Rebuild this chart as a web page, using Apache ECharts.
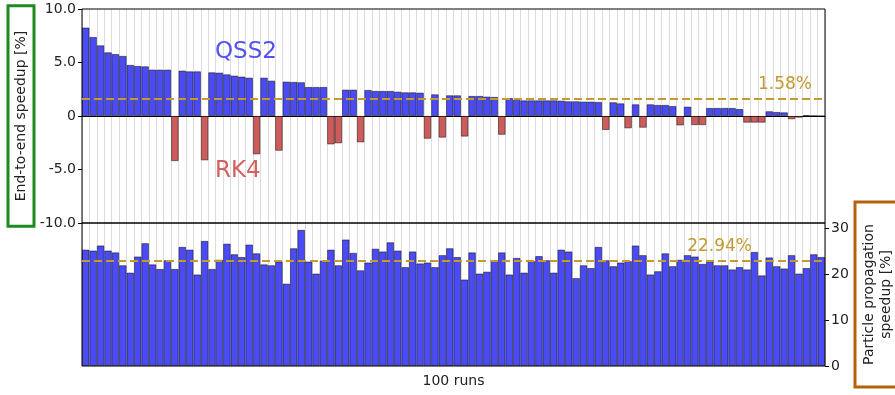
<!DOCTYPE html>
<html>
<head>
<meta charset="utf-8">
<script src="https://cdn.jsdelivr.net/npm/echarts@6/dist/echarts.min.js"></script>
<style>
  html, body { margin: 0; padding: 0; background: #fff; }
  #chart { width: 895px; height: 395px; }
</style>
</head>
<body>
<div id="chart"></div>
<script>
// 100 runs, sorted by size of end-to-end speedup (QSS2 > 0, RK4 < 0)
const runs = Array.from({ length: 100 }, (_, i) => i + 1)

const endToEnd = [
  8.26, 7.38, 6.60, 5.95, 5.79, 5.61, 4.77, 4.67, 4.64, 4.33,
  4.33, 4.33, -4.21, 4.24, 4.17, 4.17, -4.14, 4.08, 4.05, 3.89,
  3.77, 3.68, 3.58, -3.58, 3.58, 3.30, -3.24, 3.21, 3.18, 3.15,
  2.71, 2.71, 2.71, -2.65, -2.55, 2.46, 2.46, -2.46, 2.43, 2.34,
  2.34, 2.34, 2.27, 2.21, 2.21, 2.18, -2.12, 2.02, -2.02, 1.93,
  1.93, -1.92, 1.87, 1.87, 1.81, 1.78, -1.75, 1.68, 1.50, 1.46,
  1.46, 1.46, 1.46, 1.46, 1.43, 1.37, 1.37, 1.34, 1.34, 1.31,
  -1.30, 1.28, 1.18, -1.15, 1.09, -1.09, 1.09, 1.03, 1.03, 0.93,
  -0.88, 0.87, -0.85, -0.85, 0.75, 0.75, 0.75, 0.75, 0.65, -0.62,
  -0.62, -0.62, 0.44, 0.37, 0.34, -0.30, -0.15, 0.08, 0.03, 0.00
]

const particleProp = [
  25.3, 25.1, 26.2, 25.1, 24.7, 21.9, 20.3, 23.8, 26.7, 22.1,
  21.1, 23.0, 21.1, 25.9, 25.3, 19.9, 27.2, 21.1, 23.1, 26.6,
  24.3, 23.7, 26.4, 24.5, 22.1, 21.9, 22.7, 17.9, 25.6, 29.6,
  22.7, 20.1, 22.9, 25.3, 21.9, 27.5, 24.6, 20.8, 22.5, 25.5,
  24.9, 26.9, 25.1, 21.5, 24.9, 22.3, 22.5, 21.5, 24.1, 25.6,
  23.7, 18.8, 24.7, 20.1, 20.5, 23.0, 24.7, 19.9, 23.5, 20.3,
  22.8, 23.9, 23.0, 20.3, 25.3, 24.9, 19.1, 21.9, 21.3, 25.9,
  23.0, 21.7, 22.5, 22.8, 26.2, 24.1, 19.9, 20.6, 24.5, 21.7,
  23.1, 24.1, 23.8, 22.2, 22.8, 21.9, 21.9, 21.0, 21.5, 21.0,
  24.8, 19.7, 23.6, 21.7, 21.2, 24.1, 20.1, 21.3, 24.3, 23.7
]

const endToEndMean = 1.58
const particleMean = 22.94
const topTicks = [-10, -5, 0, 5, 10]
const bottomTicks = [0, 10, 20, 30]

const blue = '#4b4bf5'
const red = '#cd5c5c'
const gold = '#c49a30'
const edge = 'rgba(0,0,0,0.6)'
const font = '"DejaVu Sans", sans-serif'

const chart = echarts.init(document.getElementById('chart'))

const catAxis = (gridIndex) => ({
  gridIndex: gridIndex,
  type: 'category',
  data: runs,
  axisTick: { show: false },
  axisLabel: { show: false },
  splitLine: { show: true, interval: 0, lineStyle: { color: '#dcdcdc', width: 1 } }
})

// grid z above the split lines and bars so the black frame stays on top
const gridBase = {
  left: 82, right: 70, show: true, z: 3,
  backgroundColor: 'transparent', borderColor: '#000', borderWidth: 1,
  outerBoundsMode: 'none'
}

chart.setOption({
  animation: false,
  textStyle: { fontFamily: font },
  grid: [
    Object.assign({ top: 9, height: 214 }, gridBase),
    Object.assign({ top: 223, height: 143 }, gridBase)
  ],
  xAxis: [
    Object.assign(catAxis(0), {
      axisLine: { show: true, onZero: true, lineStyle: { color: '#000', width: 1 } }
    }),
    Object.assign(catAxis(1), {
      axisLine: { show: false },
      name: '100 runs',
      nameLocation: 'middle',
      nameGap: 8,
      nameMoveOverlap: false,
      nameTextStyle: { fontSize: 14, color: '#222', verticalAlign: 'top' }
    })
  ],
  yAxis: [
    {
      gridIndex: 0,
      type: 'value',
      position: 'left',
      min: -10,
      max: 10,
      interval: 5,
      axisLine: { show: false },
      axisTick: { show: true, length: 4, customValues: topTicks, lineStyle: { color: '#000' } },
      axisLabel: {
        customValues: topTicks,
        fontSize: 14, color: '#222', margin: 6,
        formatter: v => v === 0 ? '0' : v.toFixed(1)
      },
      splitLine: { show: false },
      name: 'End-to-end speedup [%]',
      nameLocation: 'middle',
      nameRotate: 90,
      nameGap: 48,
      nameMoveOverlap: false,
      nameTextStyle: {
        fontSize: 14, color: '#222',
        borderColor: '#1e8a1e', borderWidth: 3,
        padding: [6, 25, 6, 25]
      }
    },
    {
      gridIndex: 1,
      type: 'value',
      position: 'right',
      min: 0,
      max: 31.1,
      axisLine: { show: false },
      axisTick: { show: true, length: 4, customValues: bottomTicks, lineStyle: { color: '#000' } },
      axisLabel: { customValues: bottomTicks, fontSize: 14, color: '#222', margin: 6 },
      splitLine: { show: false },
      name: 'Particle propagation\nspeedup [%]',
      nameLocation: 'middle',
      nameRotate: 90,
      nameGap: 30,
      nameMoveOverlap: false,
      nameTextStyle: {
        fontSize: 14, color: '#222', lineHeight: 17, align: 'center',
        borderColor: '#b5620f', borderWidth: 3,
        padding: [6, 22, 7, 22]
      }
    }
  ],
  graphic: [
    { type: 'text', z: 50, left: 215, top: 41, style: { text: 'QSS2', fill: '#5252ee', font: '23px ' + font } },
    { type: 'text', z: 50, left: 215, top: 160, style: { text: 'RK4', fill: '#d06262', font: '23px ' + font } }
  ],
  series: [
    {
      name: 'End-to-end',
      type: 'bar',
      xAxisIndex: 0,
      yAxisIndex: 0,
      data: endToEnd,
      barCategoryGap: 0,
      itemStyle: {
        color: p => p.value >= 0 ? blue : red,
        borderColor: edge,
        borderWidth: 0.8
      },
      markLine: {
        silent: true,
        symbol: 'none',
        data: [{ yAxis: endToEndMean }],
        lineStyle: { color: gold, type: [8, 4], width: 2 },
        label: {
          position: 'insideEndTop',
          formatter: endToEndMean.toFixed(2) + '%',
          color: gold, fontSize: 17, distance: 6,
          padding: [0, 7, 0, 0]
        }
      }
    },
    {
      name: 'Particle propagation',
      type: 'bar',
      xAxisIndex: 1,
      yAxisIndex: 1,
      data: particleProp,
      barCategoryGap: 0,
      itemStyle: { color: blue, borderColor: edge, borderWidth: 0.8 },
      markLine: {
        silent: true,
        symbol: 'none',
        data: [{ yAxis: particleMean }],
        lineStyle: { color: gold, type: [8, 4], width: 2 },
        label: {
          position: 'insideEndTop',
          formatter: particleMean.toFixed(2) + '%',
          color: gold, fontSize: 17, distance: 5,
          padding: [0, 68, 0, 0]
        }
      }
    }
  ]
})
</script>
</body>
</html>
